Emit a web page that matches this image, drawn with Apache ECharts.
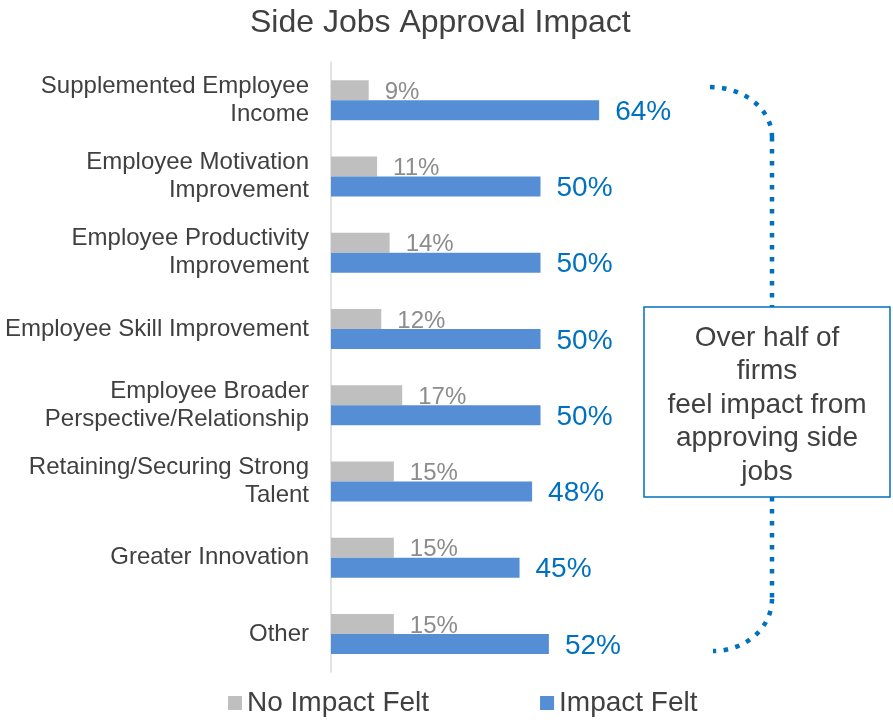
<!DOCTYPE html>
<html>
<head>
<meta charset="utf-8">
<title>Side Jobs Approval Impact</title>
<script src="https://cdn.jsdelivr.net/npm/echarts@6/dist/echarts.min.js"></script>
<style>
  html, body { margin: 0; padding: 0; background: #ffffff; }
  #chart { width: 893px; height: 720px; }
</style>
</head>
<body>
<div id="chart"></div>
<script>
// Categories, top to bottom
const categories = [
  'Supplemented Employee\nIncome',
  'Employee Motivation\nImprovement',
  'Employee Productivity\nImprovement',
  'Employee Skill Improvement',
  'Employee Broader\nPerspective/Relationship',
  'Retaining/Securing Strong\nTalent',
  'Greater Innovation',
  'Other'
];

// Share of firms (%)
const noImpactFelt = [9, 11, 14, 12, 17, 15, 15, 15];
const impactFelt = [64, 50, 50, 50, 50, 48, 45, 52];

const seriesNames = ['No Impact Felt', 'Impact Felt'];
const calloutText = 'Over half of\nfirms\nfeel impact from\napproving side\njobs';

const FONT = '"Liberation Sans", Arial, sans-serif';
const BRACKET = {
  stroke: '#0070C0',
  lineWidth: 4.5,
  lineDash: [4.5, 7.5],
  lineCap: 'butt',
  fill: 'none'
};

const chart = echarts.init(document.getElementById('chart'));

chart.setOption({
  backgroundColor: '#ffffff',
  animation: false,
  textStyle: { fontFamily: FONT },
  title: {
    text: 'Side Jobs Approval Impact',
    left: 245,
    top: 2,
    textStyle: { fontFamily: FONT, fontSize: 32, fontWeight: 'normal', color: '#404040' }
  },
  legend: {
    data: seriesNames,
    left: 223,
    top: 684,
    itemWidth: 14,
    itemHeight: 14,
    itemGap: 111,
    icon: 'rect',
    textStyle: { fontFamily: FONT, fontSize: 28, color: '#404040' }
  },
  grid: { left: 331, top: 62, width: 419, height: 610, containLabel: false },
  xAxis: {
    type: 'value',
    min: 0,
    max: 100,
    show: false
  },
  yAxis: {
    type: 'category',
    data: categories,
    inverse: true,
    axisLine: { show: true, lineStyle: { color: '#D9D9D9', width: 1.5 } },
    axisTick: { show: false },
    axisLabel: {
      margin: 22,
      fontFamily: FONT,
      fontSize: 24,
      lineHeight: 28,
      color: '#404040',
      align: 'right',
      padding: [6, 0, 0, 0]
    }
  },
  series: [
    {
      name: seriesNames[0],
      type: 'bar',
      data: noImpactFelt,
      barWidth: 20,
      barGap: '0%',
      itemStyle: { color: '#BFBFBF' },
      label: {
        show: true,
        position: 'right',
        distance: 16,
        offset: [0, 2],
        formatter: '{c}%',
        fontFamily: FONT,
        fontSize: 24,
        color: '#8C8C8C'
      }
    },
    {
      name: seriesNames[1],
      type: 'bar',
      data: impactFelt,
      barWidth: 20,
      barGap: '0%',
      itemStyle: { color: '#558ED5' },
      label: {
        show: true,
        position: 'right',
        distance: 16,
        offset: [0, 2],
        formatter: '{c}%',
        fontFamily: FONT,
        fontSize: 28,
        color: '#0070C0'
      }
    }
  ],
  graphic: [
    // dotted curly bracket grouping all categories
    {
      type: 'bezierCurve',
      z: 10,
      shape: { x1: 710, y1: 87, cpx1: 744.2, cpy1: 87, cpx2: 772, cpy2: 109.4, x2: 772, y2: 137 },
      style: BRACKET
    },
    {
      type: 'line',
      z: 10,
      shape: { x1: 772, y1: 137, x2: 772, y2: 599 },
      style: BRACKET
    },
    {
      type: 'bezierCurve',
      z: 10,
      shape: { x1: 772, y1: 599, cpx1: 772, cpy1: 627.7, cpx2: 745.6, cpy2: 651, x2: 713, y2: 651 },
      style: BRACKET
    },
    {
      type: 'rect',
      z: 11,
      shape: { x: 644, y: 307, width: 246, height: 190 },
      style: { fill: '#ffffff', stroke: '#0070C0', lineWidth: 1.5 }
    },
    {
      type: 'text',
      z: 12,
      x: 767,
      y: 405,
      style: {
        text: calloutText,
        fontFamily: FONT,
        fontSize: 28,
        lineHeight: 33.5,
        fill: '#404040',
        align: 'center',
        verticalAlign: 'middle'
      }
    }
  ]
});
</script>
</body>
</html>
